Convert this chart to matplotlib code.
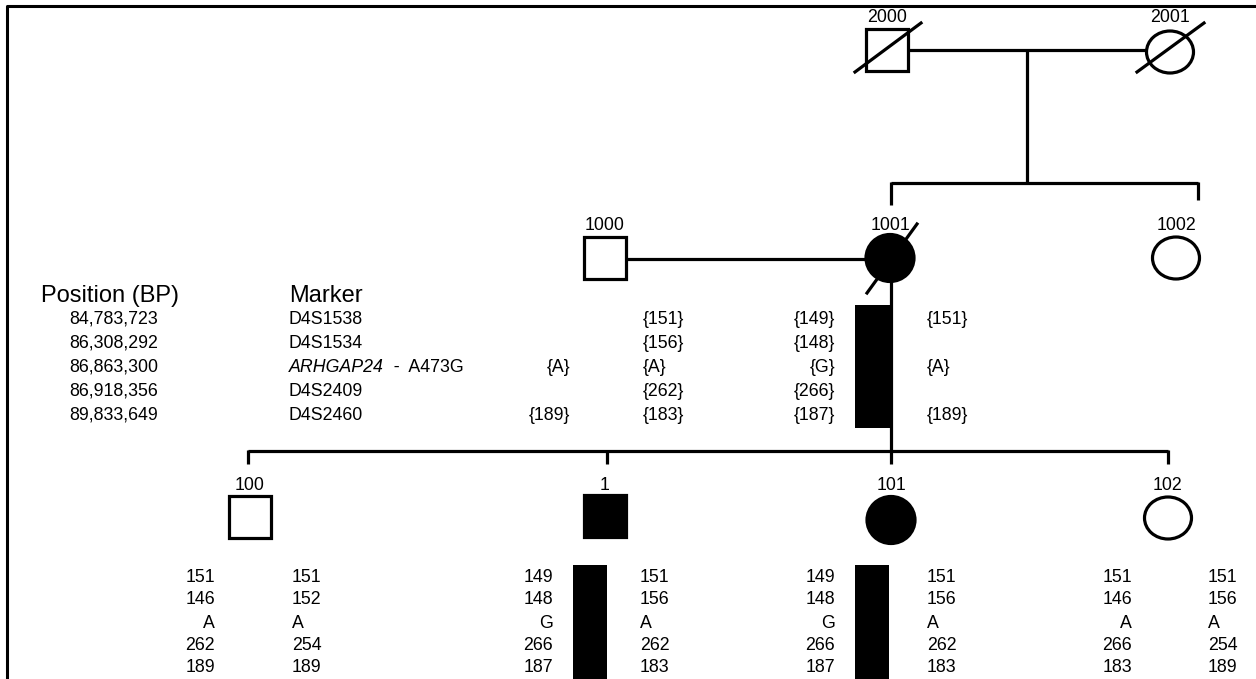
import matplotlib
matplotlib.use('Agg')
from matplotlib import pyplot as plt
from matplotlib.patches import Rectangle, Ellipse

plt.rcParams['font.family'] = ['Liberation Sans', 'DejaVu Sans']

# pedigree members
ids = ['2000', '2001', '1000', '1001', '1002', '100', '1', '101', '102']
sex = ['m', 'f', 'm', 'f', 'f', 'm', 'm', 'f', 'f']
affected = [0, 0, 0, 1, 0, 0, 1, 1, 0]
deceased = [1, 1, 0, 1, 0, 0, 0, 0, 0]

# marker table
positions = ['84,783,723', '86,308,292', '86,863,300', '86,918,356', '89,833,649']
markers = ['D4S1538', 'D4S1534', 'ARHGAP24', 'D4S2409', 'D4S2460']

# inferred haplotypes of the parents
hap_1000_a = ['', '', '{A}', '', '{189}']
hap_1000_b = ['{151}', '{156}', '{A}', '{262}', '{183}']
hap_1001_a = ['{149}', '{148}', '{G}', '{266}', '{187}']
hap_1001_b = ['{151}', '', '{A}', '', '{189}']

# haplotypes of the children
hap_100 = (['151', '146', 'A', '262', '189'], ['151', '152', 'A', '254', '189'])
hap_1 = (['149', '148', 'G', '266', '187'], ['151', '156', 'A', '262', '183'])
hap_101 = (['149', '148', 'G', '266', '187'], ['151', '156', 'A', '262', '183'])
hap_102 = (['151', '146', 'A', '266', '183'], ['151', '156', 'A', '254', '189'])

# ---- layout (pixels) ----
cx = [887, 1170, 605, 890, 1176, 250, 605, 891, 1168]
cy = [50, 52, 258, 258, 258, 517, 516, 520, 518]
label_y = [18, 18, 226, 226, 226, 485, 485, 485, 485]
# slash end offsets (dx0, dy0, dx1, dy1) for deceased
slash = {0: (-32, 22, 34, -27), 1: (-33, 20, 34, -29), 3: (-23, 35, 27, -34)}
sq = 42
cw, ch = 47, 42
lw = 2.3
fs = 12.8

fig = plt.figure(figsize=(12.56, 6.79), dpi=100)
ax = fig.add_axes([0, 0, 1, 1])
ax.set_xlim(0, 1256)
ax.set_ylim(679, 0)
ax.axis('off')

# frame
ax.plot([7, 7, 1256], [679, 6, 6], color='black', lw=2.2)


def line(xs, ys):
    ax.plot(xs, ys, color='black', lw=lw, solid_capstyle='butt')


for i, name in enumerate(ids):
    fc = 'black' if affected[i] else 'white'
    if sex[i] == 'm':
        p = Rectangle((cx[i] - sq/2, cy[i] - sq/2), sq, sq, fc=fc, ec='black', lw=lw, zorder=3)
    else:
        w, h = (cw + 1, ch + 5) if affected[i] else (cw, ch)
        p = Ellipse((cx[i], cy[i]), w, h, fc=fc, ec='black', lw=lw, zorder=3)
    ax.add_patch(p)
    if deceased[i]:
        d = slash[i]
        ax.plot([cx[i] + d[0], cx[i] + d[2]], [cy[i] + d[1], cy[i] + d[3]],
                color='black', lw=lw, zorder=4)
    ax.text(cx[i], label_y[i], name, ha='center', va='center', fontsize=fs)

# first generation
line([908, 1147], [50, 50])
line([1027, 1027], [50, 183])
line([891, 1198], [183, 183])
line([891, 891], [182, 205])
line([1198, 1198], [182, 200])

# second generation
line([626, 866], [259, 259])
line([891, 891], [280, 464])
line([248, 1168], [451, 451])
for x in [248, 607, 1168]:
    line([x, x], [450, 464])

# haplotype bars
ax.add_patch(Rectangle((855, 305), 35, 123, fc='black', ec='none', zorder=2))
ax.add_patch(Rectangle((573, 565), 34, 120, fc='black', ec='none', zorder=2))
ax.add_patch(Rectangle((855, 565), 34, 120, fc='black', ec='none', zorder=2))

# marker table
rows2 = [319, 343, 367, 391, 415]
ax.text(41, 296, 'Position (BP)', ha='left', va='center', fontsize=17)
ax.text(289, 296, 'Marker', ha='left', va='center', fontsize=17)
for k in range(5):
    y = rows2[k]
    ax.text(158, y, positions[k], ha='right', va='center', fontsize=fs)
    if markers[k] == 'ARHGAP24':
        t = ax.text(289, y, markers[k], ha='left', va='center', fontsize=fs, style='italic')
        ax.annotate('  -  A473G', xy=(1, 0), xycoords=t, ha='left', va='bottom', fontsize=fs)
    else:
        ax.text(289, y, markers[k], ha='left', va='center', fontsize=fs)
    ax.text(570, y, hap_1000_a[k], ha='right', va='center', fontsize=fs)
    ax.text(643, y, hap_1000_b[k], ha='left', va='center', fontsize=fs)
    ax.text(835, y, hap_1001_a[k], ha='right', va='center', fontsize=fs)
    ax.text(927, y, hap_1001_b[k], ha='left', va='center', fontsize=fs)

# children haplotypes
rows3 = [577, 600, 623, 646, 668]
kids = [(hap_100, 215, 292), (hap_1, 553, 640), (hap_101, 835, 927), (hap_102, 1132, 1208)]
for hap, xl, xr in kids:
    for k in range(5):
        ax.text(xl, rows3[k], hap[0][k], ha='right', va='center', fontsize=fs)
        ax.text(xr, rows3[k], hap[1][k], ha='left', va='center', fontsize=fs)

fig.savefig('out.png', dpi=100)
